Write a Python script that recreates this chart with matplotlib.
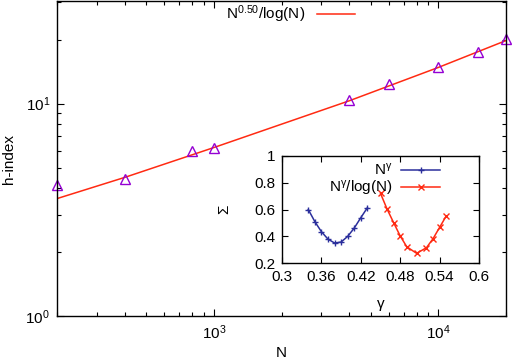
import matplotlib
matplotlib.use("Agg")
import matplotlib.pyplot as plt
from matplotlib.ticker import NullFormatter

plt.rcParams['font.family'] = ['Liberation Sans', 'DejaVu Sans']
plt.rcParams['mathtext.fontset'] = 'custom'
plt.rcParams['mathtext.rm'] = 'Liberation Sans'
plt.rcParams['mathtext.it'] = 'Liberation Sans'

# ----------------------------
# Data
# ----------------------------

N_pts = [200, 400, 800, 1000, 4000, 6000, 10000, 15000, 20000]
h_pts = [4.12, 4.4, 5.95, 6.15, 10.4, 12.3, 14.9, 17.4, 20.2]

# fitted curve N^0.50/log(N)
N_fit = [200, 400, 1000, 4000, 10000, 20000]
h_fit = [3.57, 4.49, 6.21, 10.3, 14.8, 19.8]

gamma_pow = [0.34, 0.35, 0.36, 0.37, 0.38, 0.39, 0.40, 0.41, 0.42, 0.43]
sigma_pow = [0.60, 0.51, 0.435, 0.38, 0.351, 0.358, 0.40, 0.462, 0.539, 0.613]

gamma_log = [0.45, 0.46, 0.47, 0.48, 0.49, 0.505, 0.52, 0.53, 0.54, 0.55]
sigma_log = [0.72, 0.603, 0.502, 0.403, 0.323, 0.274, 0.316, 0.383, 0.467, 0.551]

inset_xticks = [0.3, 0.36, 0.42, 0.48, 0.54, 0.6]
inset_xlabels = ["0.3", "0.36", "0.42", "0.48", "0.54", "0.6"]
inset_yticks = [0.2, 0.4, 0.6, 0.8, 1.0]
inset_ylabels = ["0.2", "0.4", "0.6", "0.8", "1"]

PURPLE = "#9400d3"
RED = "#ff2a12"
BLUE = "#2b2f9c"
FS = 11

# ----------------------------
# Main plot
# ----------------------------

fig = plt.figure(figsize=(5.12, 3.59), dpi=100)
ax = fig.add_axes([57 / 512, 43 / 359, 449 / 512, 315 / 359])

ax.plot(N_fit, h_fit, color=RED, lw=1.1, label=r"N$^{0.50}$/log(N)")
ax.plot(N_pts, h_pts, ls="none", marker="^", ms=7, mfc="none",
        mec=PURPLE, mew=1.0, clip_on=False)

ax.set_xscale("log")
ax.set_yscale("log")
ax.set_xlim(200, 20000)
ax.set_ylim(1, 30.4)
ax.xaxis.set_minor_formatter(NullFormatter())
ax.yaxis.set_minor_formatter(NullFormatter())
ax.tick_params(which="both", direction="in", top=True, right=True,
               labelsize=FS, width=0.8)
ax.tick_params(which="major", length=5, pad=5)
ax.tick_params(which="minor", length=3)
for s in ax.spines.values():
    s.set_linewidth(1.0)

ax.set_xlabel("N", fontsize=FS, labelpad=3)
ax.set_ylabel("h-index", fontsize=FS, labelpad=7)

ax.legend(loc="upper center", bbox_to_anchor=(0.52, 1.035), frameon=False,
          markerfirst=False, fontsize=FS, handlelength=2.5, handletextpad=0.8)

# ----------------------------
# Inset
# ----------------------------

ins = fig.add_axes([282 / 512, 95.7 / 359, 197 / 512, 107.6 / 359])
ins.plot(gamma_pow, sigma_pow, color=BLUE, lw=1.1, marker="+", ms=5,
         mew=1.0, label=r"N$^{\gamma}$")
ins.plot(gamma_log, sigma_log, color=RED, lw=1.1, marker="x", ms=4,
         mew=1.0, label=r"N$^{\gamma}$/log(N)")

ins.set_xlim(0.3, 0.6)
ins.set_ylim(0.2, 1.0)
ins.set_xticks(inset_xticks)
ins.set_xticklabels(inset_xlabels)
ins.set_yticks(inset_yticks)
ins.set_yticklabels(inset_ylabels)
ins.tick_params(direction="in", top=True, right=True, labelsize=FS,
                length=4, width=0.8, pad=5)
for s in ins.spines.values():
    s.set_linewidth(1.0)

ins.set_xlabel("γ", fontsize=FS, labelpad=9)
ins.set_ylabel("Σ", fontsize=FS, labelpad=16)

ins.legend(loc="upper right", bbox_to_anchor=(0.87, 1.07), frameon=False,
           markerfirst=False, fontsize=FS, handlelength=2.5,
           handletextpad=0.6, labelspacing=0.05)

fig.savefig("out.png", dpi=100)
